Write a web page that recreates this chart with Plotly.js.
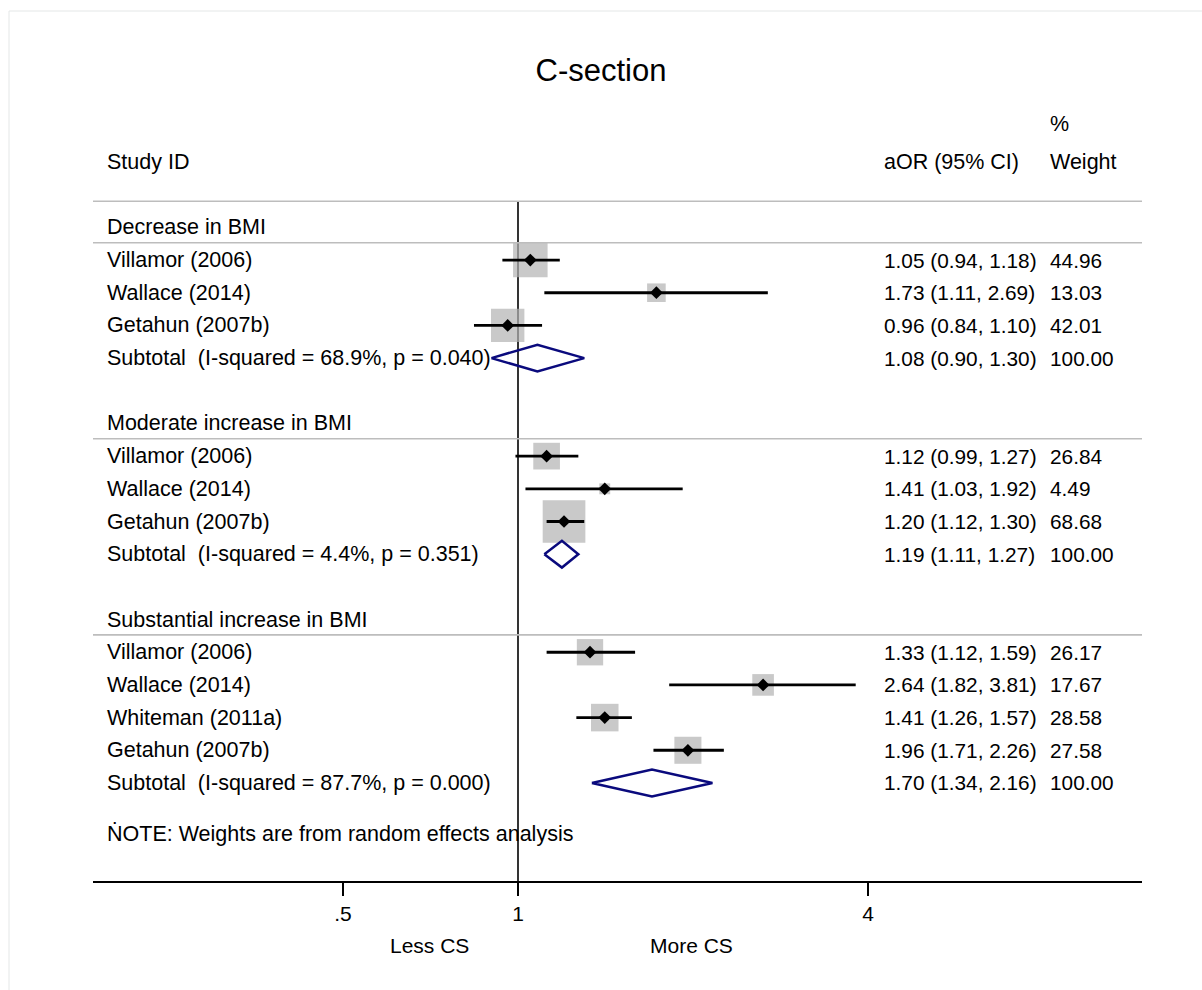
<!DOCTYPE html>
<html>
<head>
<meta charset="utf-8">
<script src="https://cdn.plot.ly/plotly-3.0.1.min.js"></script>
<style>
  html, body { margin: 0; padding: 0; background: #fff; }
  #chart { width: 1202px; height: 990px; }
</style>
</head>
<body>
<div id="chart"></div>
<script>
// ---- Subgroups ----
const groupNames = ['Decrease in BMI', 'Moderate increase in BMI', 'Substantial increase in BMI'];

// ---- Individual studies (studyGroup indexes groupNames) ----
const studyNames = ['Villamor (2006)', 'Wallace (2014)', 'Getahun (2007b)',
                    'Villamor (2006)', 'Wallace (2014)', 'Getahun (2007b)',
                    'Villamor (2006)', 'Wallace (2014)', 'Whiteman (2011a)', 'Getahun (2007b)'];
const studyGroup  = [0, 0, 0, 1, 1, 1, 2, 2, 2, 2];
const studyOR     = [1.05, 1.73, 0.96, 1.12, 1.41, 1.20, 1.33, 2.64, 1.41, 1.96];
const studyLow    = [0.94, 1.11, 0.84, 0.99, 1.03, 1.12, 1.12, 1.82, 1.26, 1.71];
const studyHigh   = [1.18, 2.69, 1.10, 1.27, 1.92, 1.30, 1.59, 3.81, 1.57, 2.26];
const studyWeight = [44.96, 13.03, 42.01, 26.84, 4.49, 68.68, 26.17, 17.67, 28.58, 27.58];

// ---- Pooled (random effects) subgroup estimates ----
const pooledOR     = [1.08, 1.19, 1.70];
const pooledLow    = [0.90, 1.11, 1.34];
const pooledHigh   = [1.30, 1.27, 2.16];
const pooledWeight = [100.00, 100.00, 100.00];
const iSquared     = [68.9, 4.4, 87.7];
const pHet         = [0.040, 0.351, 0.000];

// ---- Axis ----
const tickValues = [0.5, 1, 4];
const tickLabels = ['.5', '1', '4'];
const nullValue  = 1;

// ---------------------------------------------------------------
const FONT = 'Liberation Sans, Arial, Helvetica, sans-serif';
const W = 1202, H = 990;
const PL = 93, PR = 1142, PT = 110, PB = 881;       // plot area in pixels
const px = p => (p - PL) / (PR - PL);                 // pixel x -> paper x
const py = p => (PB - p) / (PB - PT);                 // pixel y -> paper y

// Row layout: header on row 0, then each subgroup block
let row = 2;
const groupRow = [], studyRow = [], pooledRow = [];
groupNames.forEach((g, gi) => {
  groupRow.push(row); row++;
  studyGroup.forEach((sg, i) => { if (sg === gi) { studyRow[i] = row; row++; } });
  pooledRow.push(row); row += 2;
});
const noteRow = pooledRow[pooledRow.length - 1] + 1.55;
const headerLineRow = 1.2;
const bottomRow = 22;

const fmt2 = v => v.toFixed(2);
const ciText = (e, l, h) => fmt2(e) + ' (' + fmt2(l) + ', ' + fmt2(h) + ')';

// ---- Traces ----
const traces = [];

// line of no effect
traces.push({
  x: [nullValue, nullValue], y: [headerLineRow, bottomRow],
  mode: 'lines', line: { color: '#000', width: 1.6 }, hoverinfo: 'skip'
});

// weight boxes
traces.push({
  x: studyOR, y: studyRow, mode: 'markers',
  marker: { symbol: 'square', size: studyWeight.map(w => 5.15 * Math.sqrt(w)),
            color: '#b2b2b2', line: { width: 0 } },
  hoverinfo: 'skip'
});

// confidence intervals
const ciX = [], ciY = [];
studyOR.forEach((_, i) => {
  ciX.push(studyLow[i], studyHigh[i], null);
  ciY.push(studyRow[i], studyRow[i], null);
});
traces.push({ x: ciX, y: ciY, mode: 'lines', line: { color: '#000', width: 2.8 }, hoverinfo: 'skip' });

// point estimates
traces.push({
  x: studyOR, y: studyRow, mode: 'markers',
  marker: { symbol: 'diamond', size: 9.8, color: '#000', line: { width: 0 } },
  hoverinfo: 'skip'
});

// pooled diamonds
const dX = [], dY = [], half = 0.41;
pooledOR.forEach((e, g) => {
  const r = pooledRow[g];
  dX.push(pooledLow[g], e, pooledHigh[g], e, pooledLow[g], null);
  dY.push(r, r - half, r, r + half, r, null);
});
traces.push({ x: dX, y: dY, mode: 'lines', line: { color: '#0a0a7d', width: 2.5 }, hoverinfo: 'skip' });

// ---- Text columns ----
const annotations = [];
const colLabel = px(105), colCI = px(882), colW = px(1048);
const txt = (x, y, text, size) => ({
  x: x, y: y, xref: 'paper', yref: 'y', text: text, showarrow: false,
  xanchor: 'left', yanchor: 'middle', font: { family: FONT, size: size || 21.5, color: '#000' }
});
const NUM = 20.8;

annotations.push(txt(colLabel, 0, 'Study ID'));
annotations.push(txt(colCI, 0, 'aOR (95% CI)'));
annotations.push(txt(colW, -1.15, '%'));
annotations.push(txt(colW, 0, 'Weight'));

groupNames.forEach((g, gi) => annotations.push(txt(colLabel, groupRow[gi], g)));
studyNames.forEach((s, i) => {
  annotations.push(txt(colLabel, studyRow[i], s));
  annotations.push(txt(colCI, studyRow[i], ciText(studyOR[i], studyLow[i], studyHigh[i]), NUM));
  annotations.push(txt(colW, studyRow[i], fmt2(studyWeight[i]), NUM));
});
pooledOR.forEach((e, g) => {
  annotations.push(txt(colLabel, pooledRow[g],
    'Subtotal\u00a0 (I-squared = ' + iSquared[g].toFixed(1) + '%, p = ' + pHet[g].toFixed(3) + ')'));
  annotations.push(txt(colCI, pooledRow[g], ciText(e, pooledLow[g], pooledHigh[g]), NUM));
  annotations.push(txt(colW, pooledRow[g], fmt2(pooledWeight[g]), NUM));
});
annotations.push(txt(colLabel, noteRow, '\u1E44OTE: Weights are from random effects analysis'));

// direction labels under the axis
annotations.push({ x: px(429), y: py(945), xref: 'paper', yref: 'paper', text: 'Less CS',
  showarrow: false, xanchor: 'center', yanchor: 'middle', font: { family: FONT, size: 21, color: '#000' } });
annotations.push({ x: px(691), y: py(945), xref: 'paper', yref: 'paper', text: 'More CS',
  showarrow: false, xanchor: 'center', yanchor: 'middle', font: { family: FONT, size: 21, color: '#000' } });

// ---- Separator lines and outer frame ----
const shapes = [];
const hline = r => ({ type: 'line', xref: 'paper', yref: 'y', x0: 0, x1: 1, y0: r, y1: r,
  line: { color: '#bdbdbd', width: 1.6 } });
shapes.push(hline(headerLineRow));
groupRow.forEach(r => shapes.push(hline(r + 0.47)));
shapes.push({ type: 'rect', xref: 'paper', yref: 'paper',
  x0: px(9), x1: px(W + 10), y0: py(H + 10), y1: py(11),
  line: { color: '#e4e7e7', width: 1 }, fillcolor: 'rgba(0,0,0,0)' });

// ---- Layout ----
const lgStep = Math.log10(2) / 175;                  // log10 units per pixel
const layout = {
  width: W, height: H,
  margin: { l: PL, r: W - PR, t: PT, b: H - PB, pad: 0 },
  paper_bgcolor: '#fff', plot_bgcolor: '#fff',
  showlegend: false, hovermode: false,
  font: { family: FONT, color: '#000' },
  title: { text: 'C-section', font: { family: FONT, size: 31, color: '#000' },
           x: 0.5, xref: 'container', xanchor: 'center',
           y: 1 - 70 / H, yref: 'container', yanchor: 'middle' },
  xaxis: {
    type: 'log', range: [-(518 - PL) * lgStep, (PR - 518) * lgStep], autorange: false,
    tickmode: 'array', tickvals: tickValues, ticktext: tickLabels,
    ticks: 'outside', ticklen: 13, tickwidth: 1.5, tickcolor: '#000',
    showline: true, linecolor: '#000', linewidth: 2,
    showgrid: false, zeroline: false, fixedrange: true,
    tickfont: { family: FONT, size: 21, color: '#000' }
  },
  yaxis: {
    range: [bottomRow, -(162 - PT) / ((PB - 162) / bottomRow)], autorange: false,
    visible: false, showgrid: false, zeroline: false, fixedrange: true
  },
  annotations: annotations,
  shapes: shapes
};

Plotly.newPlot('chart', traces, layout, { staticPlot: true, displayModeBar: false });
</script>
</body>
</html>
